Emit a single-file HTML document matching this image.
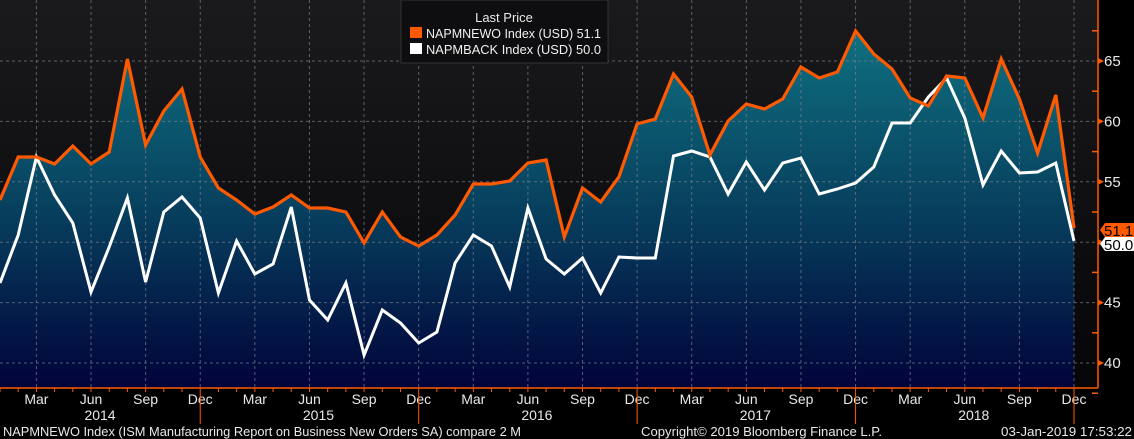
<!DOCTYPE html>
<html><head><meta charset="utf-8"><style>
html,body{margin:0;padding:0;background:#000;}
svg{display:block;font-family:"Liberation Sans",sans-serif;}
</style></head><body>
<svg width="1134" height="439" viewBox="0 0 1134 439" xmlns="http://www.w3.org/2000/svg">
<defs>
<linearGradient id="bg" x1="0" y1="0" x2="0" y2="1"><stop offset="0" stop-color="#1a1a1d"/><stop offset="1" stop-color="#060609"/></linearGradient>
<linearGradient id="ar" gradientUnits="userSpaceOnUse" x1="0" y1="30" x2="0" y2="388"><stop offset="0" stop-color="#0f7080"/><stop offset="0.5" stop-color="#07405e"/><stop offset="1" stop-color="#01033a"/></linearGradient>
</defs>
<rect x="0" y="0" width="1134" height="439" fill="#000"/>
<rect x="0" y="0" width="1098" height="388" fill="url(#bg)"/>
<polygon id="area" fill="url(#ar)" points=""/>
<g id="grid" stroke="#7a7f8a" stroke-width="1" stroke-dasharray="3,3" opacity="0.7"></g>
<polyline id="wl" fill="none" stroke="#ffffff" stroke-width="3" stroke-linejoin="miter" points=""/>
<polyline id="ol" fill="none" stroke="#ff5a00" stroke-width="3.2" stroke-linejoin="miter" points=""/>
<line x1="1098" y1="0" x2="1098" y2="388" stroke="#ff5a00" stroke-width="1.5"/>
<line x1="0" y1="388" x2="1098" y2="388" stroke="#ff5a00" stroke-width="1.5"/>
<g id="ax" fill="#e8e8e8" font-size="15"></g>
<g id="bx" fill="#e8e8e8" font-size="14" text-anchor="middle"></g>
<rect x="401" y="0" width="207" height="63" fill="#0e0e10" stroke="#333" stroke-width="1"/>
<text x="504" y="22" fill="#e8e8e8" font-size="13" text-anchor="middle">Last Price</text>
<rect x="410" y="27" width="12" height="11" fill="#ff5a00"/>
<rect x="410" y="43" width="12" height="11" fill="#ffffff"/>
<text x="426" y="38" fill="#f0f0f0" font-size="13" textLength="175" lengthAdjust="spacingAndGlyphs">NAPMNEWO Index (USD)  51.1</text>
<text x="426" y="54" fill="#f0f0f0" font-size="13" textLength="175" lengthAdjust="spacingAndGlyphs">NAPMBACK Index (USD)  50.0</text>
<polygon points="1100,230 1105,223 1134,223 1134,237 1105,237" fill="#ff5a00"/>
<text x="1104" y="236" font-size="15" fill="#000">51.1</text>
<polygon points="1100,244 1105,237 1134,237 1134,251 1105,251" fill="#ffffff"/>
<text x="1104" y="250" font-size="15" fill="#000">50.0</text>
<text x="3" y="436" fill="#e8e8e8" font-size="13" textLength="518" lengthAdjust="spacingAndGlyphs">NAPMNEWO Index (ISM Manufacturing Report on Business New Orders SA) compare 2  M</text>
<text x="641" y="436" fill="#e8e8e8" font-size="13" textLength="241" lengthAdjust="spacingAndGlyphs">Copyright© 2019 Bloomberg Finance L.P.</text>
<text x="1001" y="436" fill="#e8e8e8" font-size="13" textLength="131" lengthAdjust="spacingAndGlyphs">03-Jan-2019 17:53:22</text>
</svg>
<script>
var O=[200,157,157,164,146,164,152,59,145,111,89,157,188,200,214,207,195,208,208,212,243,212,237,246,235,215,184,184,181,163,160,237,188,202,177,124,119,74,97,155,121,104,109,99,67,78,72,31,54,69,98,106,76,78,118,59,99,153,95,228];
var W=[283,235,157,195,223,292,247,198,282,212,197,218,293,241,274,264,207,300,320,283,355,310,323,343,332,263,235,246,287,208,259,274,258,293,257,258,258,156,151,157,194,162,190,163,158,194,189,183,167,123,123,97,78,118,185,151,173,172,163,241];
var dx=1074/59;function X(i){return (i*dx).toFixed(1);}
var op=O.map(function(y,i){return X(i)+","+y;}).join(" ");
var wp=W.map(function(y,i){return X(i)+","+y;}).join(" ");
document.getElementById("ol").setAttribute("points",op);
document.getElementById("wl").setAttribute("points",wp);
document.getElementById("area").setAttribute("points","0,388 "+op+" 1074,388");
var ns="http://www.w3.org/2000/svg";
function el(t,a,p,txt){var e=document.createElementNS(ns,t);for(var k in a)e.setAttribute(k,a[k]);if(txt)e.textContent=txt;document.getElementById(p).appendChild(e);return e;}
function Y(v){return 61+(65-v)*12.08;}
for(var v=40;v<=65;v+=5){var y=Y(v);el("line",{x1:0,y1:y,x2:1098,y2:y},"grid");el("text",{x:1104,y:y+5},"ax",String(v));el("polygon",{points:"1098,"+(y-3)+" 1104,"+y+" 1098,"+(y+3),fill:"#ff5a00"},"ax");}
for(var v=37.5;v<=67.5;v+=5){var y=Y(v);el("line",{x1:1092,y1:y,x2:1098,y2:y,stroke:"#ff5a00","stroke-width":1.5},"ax");}
var mn=["Mar","Jun","Sep","Dec"];
for(var i=0;i<60;i++){var x=i*dx;el("line",{x1:x,y1:388,x2:x,y2:392,stroke:"#ff5a00","stroke-width":1},"bx");
 if(i%3==2){el("line",{x1:x,y1:0,x2:x,y2:388},"grid");el("text",{x:x,y:404},"bx",mn[((i-2)/3)%4]);}
 if(i%12==11){el("line",{x1:x,y1:392,x2:x,y2:424,stroke:"#ff5a00","stroke-width":1},"bx");}
 if(i%12==5){el("text",{x:x+9,y:420},"bx",String(2014+Math.floor(i/12)));}
}
</script>
</body></html>
